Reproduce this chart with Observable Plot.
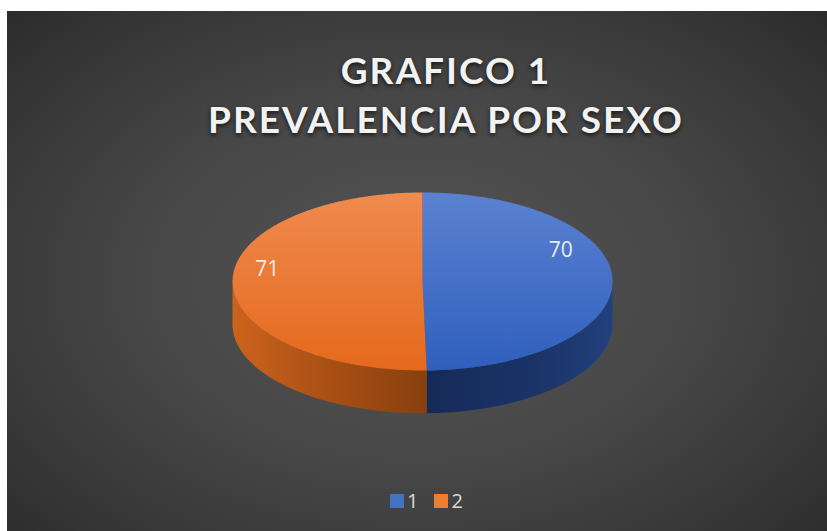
<!DOCTYPE html>
<html><head><meta charset="utf-8">
<script src="https://cdn.jsdelivr.net/npm/d3@7"></script>
<script src="https://cdn.jsdelivr.net/npm/@observablehq/plot@0.6"></script>
<style>
html,body{margin:0;padding:0;background:#fff;width:827px;height:531px;overflow:hidden;}
#frame{position:absolute;left:7px;top:11px;width:820px;height:520px;
  background:radial-gradient(ellipse 75% 80% at 50% 52%, #545454 0%, #474747 45%, #343434 80%, #272727 100%);}
#chart{position:absolute;left:0;top:0;}
#title{position:absolute;left:0;width:892px;top:45px;text-align:center;color:#f2f2f2;
  font-family:Lato,"Open Sans",sans-serif;font-weight:700;font-size:37px;line-height:49px;letter-spacing:2px;
  text-shadow:0 2px 4px rgba(0,0,0,0.7);}
#legend{position:absolute;left:390px;top:487px;display:flex;align-items:center;
  font-family:"Open Sans",sans-serif;font-size:20px;color:#d9d9d9;}
#legend .sw{width:14px;height:14px;display:inline-block;margin-right:3px;}
#legend .it{display:flex;align-items:center;margin-right:16px;}
g[aria-label="shadow"]{filter:blur(4px);}
</style></head>
<body>
<svg width="0" height="0" style="position:absolute">
 <defs>
  <linearGradient id="topBlue" x1="0" y1="0" x2="0" y2="1">
   <stop offset="0" stop-color="#5b82d1"/><stop offset="1" stop-color="#2f5fbd"/>
  </linearGradient>
  <linearGradient id="topOrange" x1="0" y1="0" x2="0" y2="1">
   <stop offset="0" stop-color="#f08a4f"/><stop offset="1" stop-color="#e5691d"/>
  </linearGradient>
  <linearGradient id="sideBlue" x1="0" y1="0" x2="1" y2="0">
   <stop offset="0" stop-color="#162a58"/><stop offset="0.6" stop-color="#1b3468"/><stop offset="1" stop-color="#22407e"/>
  </linearGradient>
  <linearGradient id="sideOrange" x1="0" y1="0" x2="1" y2="0">
   <stop offset="0" stop-color="#cd631c"/><stop offset="0.5" stop-color="#a94f14"/><stop offset="1" stop-color="#87400e"/>
  </linearGradient>
 </defs>
</svg>
<div id="frame"></div>
<div id="chart"></div>
<div id="title"></div>
<div id="legend"></div>
<script>
const categories = ["1", "2"];
const values = [70, 71];
const titleLines = ["GRAFICO 1", "PREVALENCIA POR SEXO"];

const topFills = ["url(#topBlue)", "url(#topOrange)"];
const sideFills = ["url(#sideBlue)", "url(#sideOrange)"];
const legendColors = ["#4472c4", "#ed7d31"];
const depth = 0.48;

const arcs = d3.pie().sort(null).value(d => d)(values);
const pt = (a, dy = 0) => ({x: Math.sin(a), y: Math.cos(a) + dy});
function arcPts(a0, a1, dy = 0) {
  const n = Math.max(2, Math.ceil((a1 - a0) / 0.01));
  return d3.range(n + 1).map(i => pt(a0 + (a1 - a0) * i / n, dy));
}

const marks = [];
// shadow
const shadowPts = [...arcPts(Math.PI / 2, 3 * Math.PI / 2, -depth), ...arcPts(3 * Math.PI / 2, Math.PI / 2 + 2 * Math.PI, 0)];
marks.push(Plot.line(shadowPts, {x: "x", y: "y", fill: "rgba(0,0,0,0.8)", stroke: "none", dx: 2, dy: 3, ariaLabel: "shadow"}));
// sides
arcs.forEach((a, i) => {
  const s = Math.max(a.startAngle, Math.PI / 2), e = Math.min(a.endAngle, 3 * Math.PI / 2);
  if (e > s) {
    const poly = [...arcPts(s, e), ...arcPts(s, e, -depth).reverse()];
    marks.push(Plot.line(poly, {x: "x", y: "y", fill: sideFills[i], stroke: "none"}));
  }
});
// tops
arcs.forEach((a, i) => {
  const poly = [{x: 0, y: 0}, ...arcPts(a.startAngle, a.endAngle)];
  marks.push(Plot.line(poly, {x: "x", y: "y", fill: topFills[i], stroke: "none"}));
});
// labels (placed near each slice's mid-angle, Excel 3D style)
const labels = arcs.map(a => {
  const m = (a.startAngle + a.endAngle) / 2 - 0.124;
  return {x: 0.78 * Math.sin(m), y: 0.78 * Math.cos(m), text: String(a.data)};
});
marks.push(Plot.text(labels, {x: "x", y: "y", text: "text", fill: "#ececec", fontSize: 21, dx: -8.5, dy: -22,
  fontFamily: "'Open Sans', sans-serif"}));

const chart = Plot.plot({
  width: 827, height: 531,
  margin: 0,
  style: {background: "transparent", overflow: "visible"},
  x: {domain: [-1, 1], range: [232, 612], axis: null},
  y: {domain: [-1, 1], range: [370, 192], axis: null},
  marks
});
document.getElementById("chart").appendChild(chart);

document.getElementById("title").innerHTML = titleLines.join("<br>");
const lg = document.getElementById("legend");
categories.forEach((c, i) => {
  const it = document.createElement("div"); it.className = "it";
  const sw = document.createElement("span"); sw.className = "sw"; sw.style.background = legendColors[i];
  const tx = document.createElement("span"); tx.textContent = c;
  it.appendChild(sw); it.appendChild(tx); lg.appendChild(it);
});
</script>
</body></html>
